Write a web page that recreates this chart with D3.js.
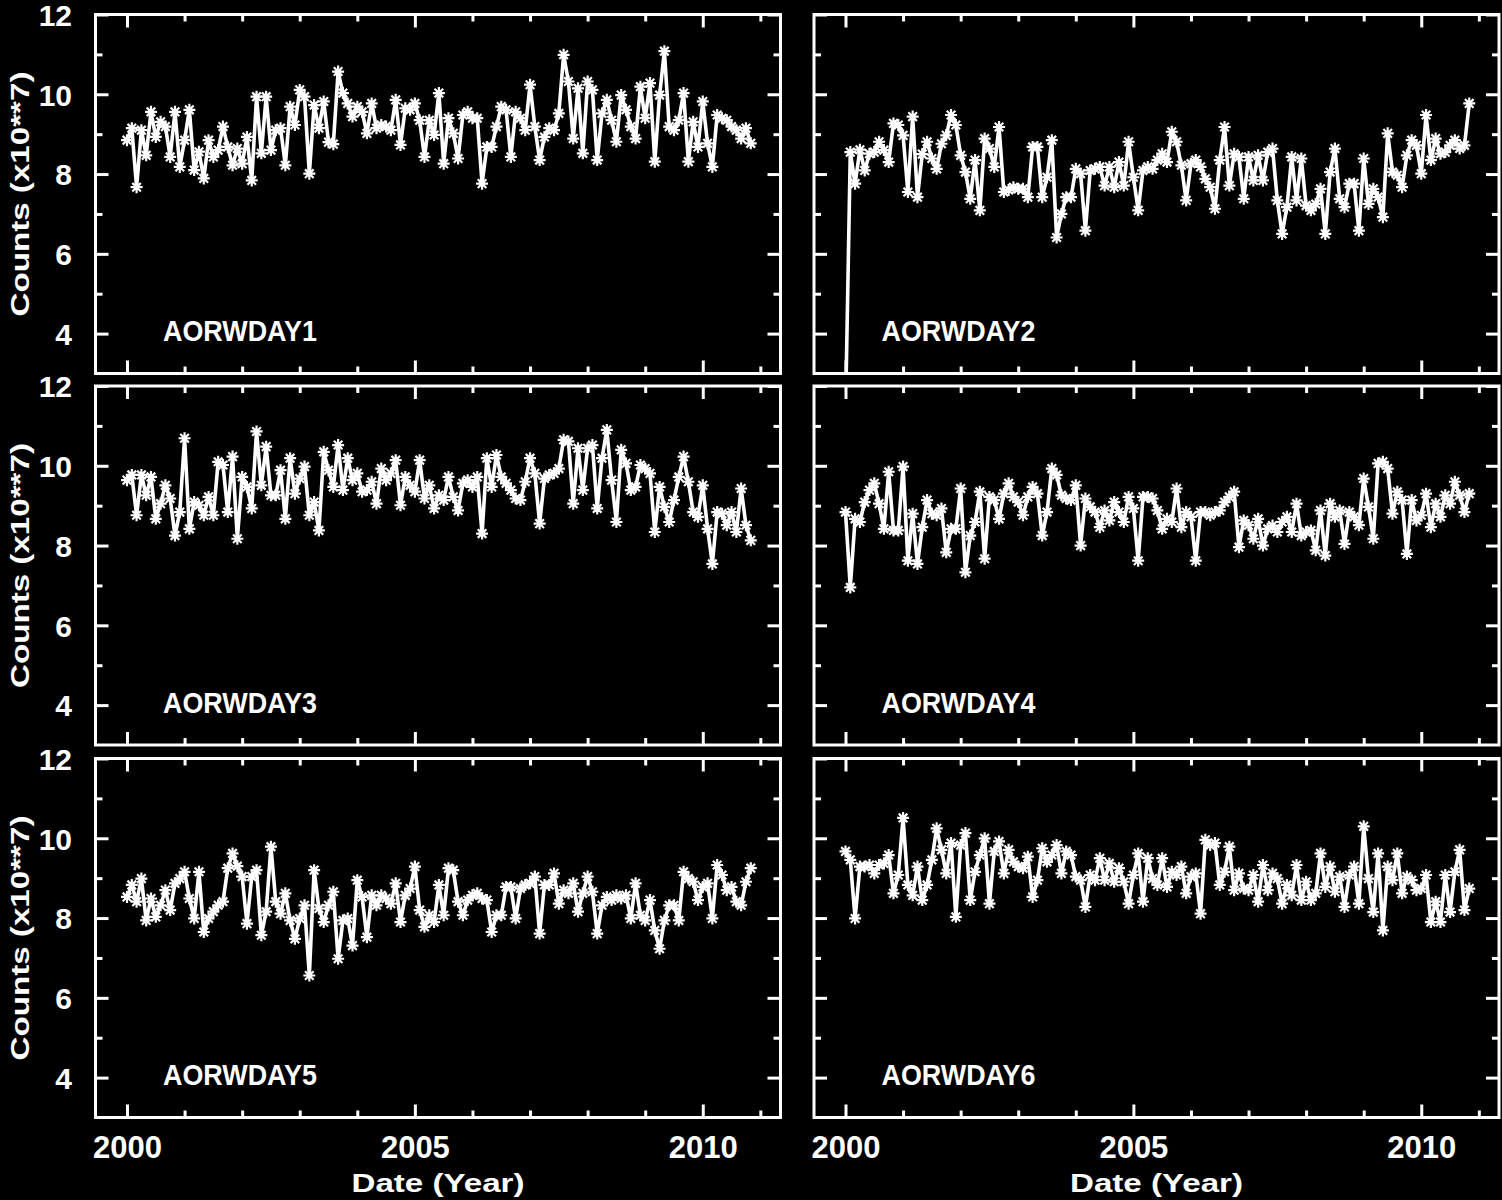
<!DOCTYPE html>
<html>
<head>
<meta charset="utf-8">
<script src="https://cdn.jsdelivr.net/npm/d3@7"></script>
<style>
  body { margin: 0; background: #000; }
  svg { display: block; }
</style>
</head>
<body>
<div id="vis"></div>
<script>
// ----- DATA (counts x10**7, one value per month from 2000.0) ----- //
const aorwday1 = [
  8.85, 9.15, 7.67, 9.10, 8.47, 9.56, 8.93, 9.31, 9.19, 8.43,
  9.56, 8.18, 8.85, 9.61, 8.10, 8.56, 7.89, 8.85, 8.43, 8.60,
  9.19, 8.68, 8.22, 8.64, 8.26, 8.93, 7.84, 9.94, 8.52, 9.94,
  8.60, 9.10, 9.15, 8.22, 9.69, 9.23, 10.11, 9.94, 8.01, 9.73,
  9.15, 9.82, 8.80, 8.75, 10.57, 10.03, 9.77, 9.44, 9.69, 9.56,
  9.02, 9.77, 9.15, 9.23, 9.19, 9.10, 9.86, 8.73, 9.65, 9.61,
  9.77, 9.35, 8.43, 9.35, 8.98, 10.03, 8.26, 9.40, 9.02, 8.39,
  9.48, 9.56, 9.40, 9.40, 7.76, 8.68, 8.68, 9.19, 9.69, 9.61,
  8.43, 9.56, 9.40, 9.10, 10.24, 9.19, 8.35, 8.93, 9.15, 9.10,
  9.52, 10.99, 10.32, 8.89, 10.15, 8.52, 10.32, 10.11, 8.35, 9.52,
  9.86, 9.35, 8.81, 9.98, 9.61, 9.19, 8.89, 10.19, 9.40, 10.28,
  8.31, 9.98, 11.08, 9.19, 9.10, 9.35, 10.03, 8.31, 9.31, 8.68,
  9.82, 8.77, 8.18, 9.48, 9.40, 9.35, 9.19, 9.10, 8.89, 9.15,
  8.77
];

const aorwday2 = [
  2.0, 8.55, 7.76, 8.61, 8.09, 8.51, 8.55, 8.81, 8.60, 8.30,
  9.27, 9.23, 8.97, 7.55, 9.44, 7.42, 8.50, 8.81, 8.39, 8.13,
  8.76, 8.97, 9.48, 9.23, 8.47, 8.05, 7.38, 8.35, 7.09, 8.89,
  8.64, 8.18, 9.18, 7.55, 7.60, 7.67, 7.63, 7.63, 7.42, 8.68,
  8.68, 7.42, 7.92, 8.85, 6.41, 7.00, 7.42, 7.42, 8.13, 8.01,
  6.58, 8.09, 8.13, 8.18, 7.71, 8.18, 7.67, 8.30, 7.71, 8.81,
  7.92, 7.09, 8.09, 8.18, 8.13, 8.35, 8.51, 8.30, 9.06, 8.81,
  8.22, 7.34, 8.26, 8.35, 8.18, 7.88, 7.67, 7.13, 8.35, 9.18,
  7.71, 8.51, 8.43, 7.38, 8.43, 7.84, 8.47, 7.84, 8.55, 8.64,
  7.34, 6.50, 7.17, 8.43, 7.34, 8.39, 7.21, 7.09, 7.25, 7.63,
  6.50, 8.05, 8.64, 7.38, 7.17, 7.76, 7.76, 6.58, 8.39, 7.25,
  7.63, 7.42, 6.92, 9.02, 8.05, 7.97, 7.67, 8.47, 8.85, 8.72,
  8.01, 9.48, 8.35, 8.89, 8.51, 8.55, 8.72, 8.85, 8.64, 8.72,
  9.77
];

const aorwday3 = [
  9.64, 9.77, 8.76, 9.77, 9.26, 9.72, 8.67, 9.05, 9.51, 9.18,
  8.25, 8.84, 10.69, 8.42, 9.09, 9.01, 8.76, 9.22, 8.76, 10.10,
  10.02, 8.84, 10.23, 8.17, 9.72, 9.47, 8.93, 10.86, 9.51, 10.48,
  9.26, 9.26, 9.89, 8.67, 10.19, 9.30, 9.68, 9.98, 8.76, 9.09,
  8.38, 10.35, 9.89, 9.47, 10.52, 9.39, 10.19, 9.64, 9.81, 9.35,
  9.39, 9.60, 9.05, 9.93, 9.64, 9.81, 10.14, 9.01, 9.72, 9.51,
  9.35, 10.14, 9.18, 9.51, 8.93, 9.26, 9.14, 9.72, 9.22, 8.88,
  9.56, 9.64, 9.47, 9.72, 8.30, 10.19, 9.47, 10.27, 9.72, 9.56,
  9.39, 9.18, 9.14, 9.60, 10.19, 9.81, 8.55, 9.68, 9.77, 9.81,
  9.93, 10.65, 10.61, 9.05, 10.44, 9.39, 10.44, 10.52, 8.93, 10.19,
  10.90, 9.64, 8.59, 10.40, 10.06, 9.39, 9.47, 10.02, 9.93, 9.81,
  8.34, 9.47, 8.97, 8.59, 9.14, 9.72, 10.23, 9.60, 8.84, 8.72,
  9.51, 8.42, 7.54, 8.84, 8.80, 8.51, 8.84, 8.34, 9.43, 8.51,
  8.13
];

const aorwday4 = [
  8.84, 6.95, 8.67, 8.59, 9.09, 9.39, 9.56, 9.05, 8.42, 9.85,
  8.38, 8.38, 9.98, 7.62, 8.80, 7.54, 8.46, 9.14, 8.80, 8.76,
  8.93, 7.83, 8.42, 8.42, 9.43, 7.33, 8.25, 8.59, 9.35, 7.67,
  9.22, 9.14, 8.67, 9.30, 9.56, 9.22, 9.09, 8.76, 9.22, 9.47,
  9.30, 8.25, 8.84, 9.93, 9.77, 9.26, 9.18, 9.14, 9.51, 8.00,
  9.18, 8.97, 8.84, 8.46, 8.88, 8.63, 9.09, 8.84, 8.59, 9.22,
  8.93, 7.62, 9.22, 9.22, 9.18, 8.88, 8.42, 8.67, 8.59, 9.43,
  8.46, 8.84, 8.72, 7.62, 8.84, 8.84, 8.76, 8.84, 8.88, 9.09,
  9.22, 9.35, 7.96, 8.63, 8.51, 8.17, 8.67, 8.00, 8.42, 8.50,
  8.34, 8.59, 8.72, 8.34, 9.05, 8.25, 8.34, 8.38, 7.88, 8.88,
  7.75, 9.05, 8.72, 8.88, 8.04, 8.84, 8.72, 8.51, 9.68, 8.97,
  8.17, 10.06, 10.10, 9.93, 8.80, 9.35, 9.14, 7.79, 9.14, 8.63,
  8.76, 9.30, 8.46, 9.05, 8.72, 9.26, 9.05, 9.60, 9.26, 8.84,
  9.30
];

const aorwday5 = [
  8.53, 8.83, 8.41, 8.99, 7.94, 8.49, 8.03, 8.32, 8.70, 8.20,
  8.87, 8.99, 9.16, 8.49, 7.99, 9.16, 7.65, 7.99, 8.16, 8.32,
  8.41, 9.25, 9.62, 9.30, 9.04, 7.86, 9.04, 9.20, 7.57, 8.16,
  9.79, 8.41, 8.11, 8.62, 7.94, 7.48, 7.99, 8.32, 6.56, 9.20,
  8.24, 7.90, 8.32, 8.66, 6.98, 7.94, 7.99, 7.31, 8.95, 8.53,
  7.52, 8.57, 8.32, 8.57, 8.49, 8.36, 8.87, 7.90, 8.57, 8.74,
  9.29, 8.20, 7.78, 8.07, 7.90, 8.83, 8.07, 9.25, 9.20, 8.41,
  8.07, 8.45, 8.57, 8.62, 8.49, 8.45, 7.65, 8.07, 8.07, 8.78,
  8.78, 7.99, 8.74, 8.83, 8.87, 9.04, 7.61, 8.83, 8.83, 9.12,
  8.36, 8.70, 8.62, 8.87, 8.16, 8.62, 9.04, 8.66, 7.61, 8.32,
  8.53, 8.45, 8.57, 8.49, 8.57, 7.99, 8.87, 8.07, 7.94, 8.45,
  7.69, 7.23, 7.94, 8.32, 8.32, 7.94, 9.16, 8.99, 8.91, 8.45,
  8.78, 8.87, 7.99, 9.33, 9.08, 8.70, 8.78, 8.41, 8.32, 8.91,
  9.25
];

const aorwday6 = [
  9.67, 9.46, 7.99, 9.29, 9.29, 9.33, 9.12, 9.33, 9.37, 9.58,
  8.62, 9.08, 10.51, 8.83, 8.57, 9.29, 8.45, 8.83, 9.46, 10.25,
  9.71, 9.12, 9.88, 8.03, 9.83, 10.13, 8.45, 9.16, 9.58, 10.00,
  8.36, 9.67, 9.92, 9.12, 9.71, 9.41, 9.29, 9.25, 9.54, 8.53,
  8.95, 9.75, 9.41, 9.58, 9.83, 9.12, 9.67, 9.58, 9.04, 8.95,
  8.28, 9.08, 8.95, 9.50, 8.95, 9.37, 8.91, 9.25, 8.91, 8.36,
  9.08, 9.62, 8.41, 9.50, 8.99, 8.83, 9.50, 8.78, 9.16, 9.08,
  9.29, 8.62, 9.04, 9.12, 8.11, 9.96, 9.83, 9.88, 8.83, 9.16,
  9.79, 8.70, 9.12, 8.74, 8.70, 9.08, 8.41, 9.33, 8.70, 9.12,
  8.99, 8.36, 8.83, 8.57, 9.33, 8.45, 8.91, 8.45, 8.62, 9.62,
  8.78, 9.29, 8.66, 9.04, 8.28, 9.08, 9.29, 8.36, 10.30, 8.99,
  8.15, 9.62, 7.69, 9.29, 8.95, 9.62, 8.62, 9.04, 8.95, 8.70,
  8.74, 9.08, 7.90, 8.41, 7.90, 9.08, 8.15, 9.16, 9.71, 8.20,
  8.74
];

const seriesNames = ["AORWDAY1", "AORWDAY2", "AORWDAY3", "AORWDAY4", "AORWDAY5", "AORWDAY6"];
const seriesData = [aorwday1, aorwday2, aorwday3, aorwday4, aorwday5, aorwday6];

// monthly sampling, first month = 2000.0
const months = d3.range(aorwday1.length).map((i) => 2000 + i / 12);

const yMajorTicks = [4, 6, 8, 10, 12];
const yMinorTicks = [5, 7, 9, 11];
const xMajorTicks = [2000, 2005, 2010];
const xMinorTicks = [2001, 2002, 2003, 2004, 2006, 2007, 2008, 2009, 2011];

// ----- LAYOUT ----- //
const W = 1502, H = 1200;
const colLeft = [95.5, 814];
const rowTop = [14.5, 386, 758.5];
const panelW = 685, panelH = 359;
const fontFam = '"Liberation Sans", Arial, Helvetica, sans-serif';

const svg = d3.select("#vis")
  .append("svg")
  .attr("width", W)
  .attr("height", H)
  .style("background", "#000");

const x = d3.scaleLinear().domain([1999.453, 2011.35]).range([0, panelW]);
const y = d3.scaleLinear().domain([3, 12]).range([panelH, 0]);

// asterisk marker, 8 arms
const r = 6, d = 4.3;
const starPath = `M0,${-r}V${r}M${-r},0H${r}M${-d},${-d}L${d},${d}M${-d},${d}L${d},${-d}`;

function styleTicks(sel) {
  sel.select(".domain").remove();
  sel.selectAll(".tick line").attr("stroke", "#fff").attr("stroke-width", 3);
}

function drawPanel(values, name, idx) {
  let col = idx % 2, row = Math.floor(idx / 2);
  let g = svg.append("g")
    .attr("transform", `translate(${colLeft[col]},${rowTop[row]})`);

  // clip so the first AORWDAY2 drop stops at the frame
  g.append("defs").append("clipPath")
    .attr("id", "clip" + idx)
    .append("rect")
    .attr("width", panelW)
    .attr("height", panelH);

  let plot = g.append("g").attr("clip-path", `url(#clip${idx})`);
  let pts = values.map((v, i) => [months[i], v]);

  let line = d3.line()
    .x((p) => x(p[0]))
    .y((p) => y(p[1]));

  plot.append("path")
    .datum(pts)
    .attr("d", line)
    .attr("fill", "none")
    .attr("stroke", "#fff")
    .attr("stroke-width", 3.6)
    .attr("stroke-linejoin", "round");

  plot.selectAll(".star")
    .data(pts)
    .join("path")
    .attr("class", "star")
    .attr("transform", (p) => `translate(${x(p[0])},${y(p[1])})`)
    .attr("d", starPath)
    .attr("stroke", "#fff")
    .attr("stroke-width", 2.2)
    .attr("fill", "none");

  // ----- TICKS, pointing inward on all four sides ----- //
  let major = 13, minor = 7;
  g.append("g").attr("transform", `translate(0,${panelH})`)
    .call(d3.axisBottom(x).tickValues(xMajorTicks).tickSize(-major).tickFormat("")).call(styleTicks);
  g.append("g").attr("transform", `translate(0,${panelH})`)
    .call(d3.axisBottom(x).tickValues(xMinorTicks).tickSize(-minor).tickFormat("")).call(styleTicks);
  g.append("g")
    .call(d3.axisTop(x).tickValues(xMajorTicks).tickSize(-major).tickFormat("")).call(styleTicks);
  g.append("g")
    .call(d3.axisTop(x).tickValues(xMinorTicks).tickSize(-minor).tickFormat("")).call(styleTicks);
  g.append("g")
    .call(d3.axisLeft(y).tickValues(yMajorTicks).tickSize(-major).tickFormat("")).call(styleTicks);
  g.append("g")
    .call(d3.axisLeft(y).tickValues(yMinorTicks).tickSize(-minor).tickFormat("")).call(styleTicks);
  g.append("g").attr("transform", `translate(${panelW},0)`)
    .call(d3.axisRight(y).tickValues(yMajorTicks).tickSize(-major).tickFormat("")).call(styleTicks);
  g.append("g").attr("transform", `translate(${panelW},0)`)
    .call(d3.axisRight(y).tickValues(yMinorTicks).tickSize(-minor).tickFormat("")).call(styleTicks);

  // frame
  g.append("rect")
    .attr("width", panelW)
    .attr("height", panelH)
    .attr("fill", "none")
    .attr("stroke", "#fff")
    .attr("stroke-width", 3);

  // ----- LABELS ----- //
  if (col === 0) {
    let yl = g.append("g")
      .call(d3.axisLeft(y).tickValues(yMajorTicks).tickSize(0).tickPadding(23.5));
    yl.select(".domain").remove();
    yl.attr("font-family", fontFam).attr("font-size", 30).attr("font-weight", "bold");
    yl.selectAll("text").attr("fill", "#fff").attr("dy", "0.36em");

    g.append("text")
      .attr("transform", `translate(${29 - colLeft[0]},${panelH / 2}) rotate(-90)`)
      .attr("text-anchor", "middle")
      .attr("font-family", fontFam)
      .attr("font-size", 26)
      .attr("font-weight", "bold")
      .attr("fill", "#fff")
      .attr("textLength", 245)
      .attr("lengthAdjust", "spacingAndGlyphs")
      .text("Counts (x10**7)");
  }

  if (row === 2) {
    let xl = g.append("g").attr("transform", `translate(0,${panelH})`)
      .call(d3.axisBottom(x).tickValues(xMajorTicks).tickSize(0).tickPadding(18).tickFormat(d3.format("d")));
    xl.select(".domain").remove();
    xl.attr("font-family", fontFam).attr("font-size", 31).attr("font-weight", "bold");
    xl.selectAll("text").attr("fill", "#fff").attr("dy", "0.71em");

    g.append("text")
      .attr("x", panelW / 2)
      .attr("y", panelH + 74)
      .attr("text-anchor", "middle")
      .attr("font-family", fontFam)
      .attr("font-size", 26)
      .attr("font-weight", "bold")
      .attr("fill", "#fff")
      .attr("textLength", 173)
      .attr("lengthAdjust", "spacingAndGlyphs")
      .text("Date (Year)");
  }

  g.append("text")
    .attr("x", 67.5)
    .attr("y", 326.5)
    .attr("font-family", fontFam)
    .attr("font-size", 30)
    .attr("font-weight", "bold")
    .attr("fill", "#fff")
    .attr("textLength", 154)
    .attr("lengthAdjust", "spacingAndGlyphs")
    .text(name);
}

seriesData.forEach((vals, i) => drawPanel(vals, seriesNames[i], i));
</script>
</body>
</html>
